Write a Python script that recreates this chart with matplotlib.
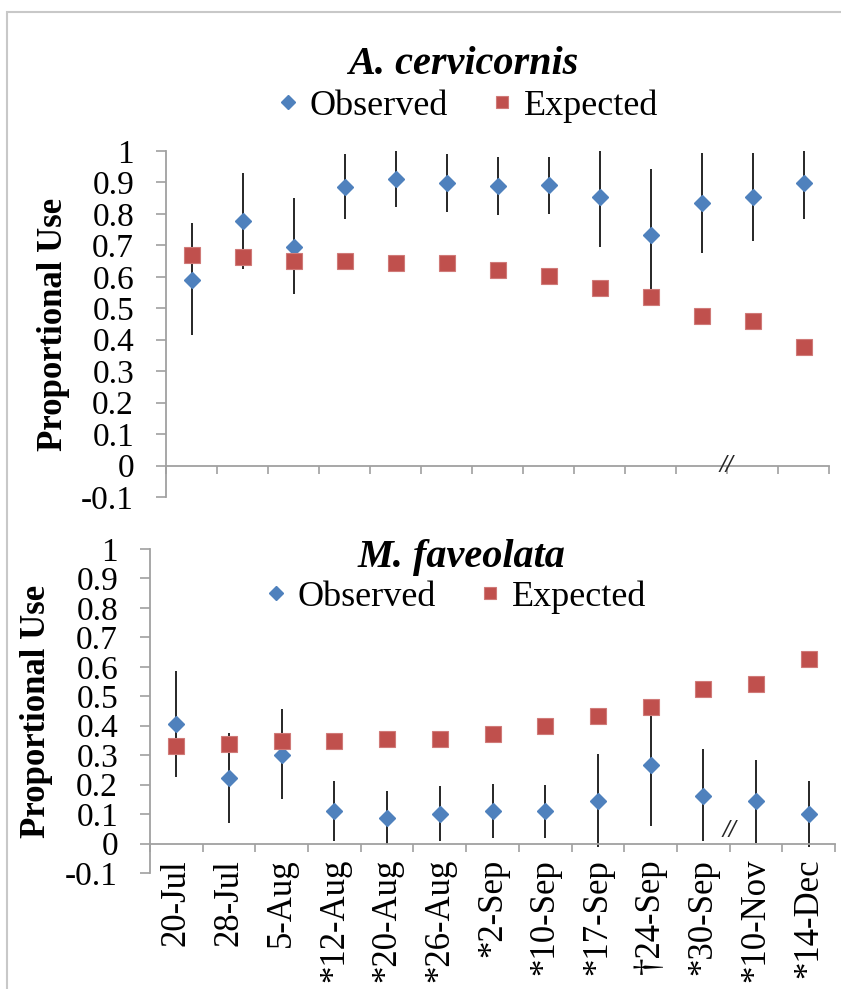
import numpy as np
import matplotlib
matplotlib.use("Agg")
import matplotlib.pyplot as plt
from matplotlib.patches import Rectangle

plt.rcParams['font.family'] = ['Liberation Serif', 'DejaVu Serif']

dates = ['20-Jul', '28-Jul', '5-Aug', '*12-Aug', '*20-Aug', '*26-Aug', '*2-Sep',
         '*10-Sep', '*17-Sep', '\u202024-Sep', '*30-Sep', '*10-Nov', '*14-Dec']

# A. cervicornis
acer_obs = [0.591, 0.777, 0.695, 0.886, 0.911, 0.899, 0.888, 0.892, 0.855, 0.732, 0.835, 0.855, 0.899]
acer_lo = [0.414, 0.624, 0.544, 0.783, 0.823, 0.807, 0.796, 0.799, 0.695, 0.530, 0.677, 0.714, 0.784]
acer_hi = [0.772, 0.929, 0.849, 0.989, 1.000, 0.990, 0.982, 0.982, 1.000, 0.942, 0.993, 0.995, 1.000]
acer_exp = [0.669, 0.663, 0.651, 0.651, 0.644, 0.644, 0.623, 0.602, 0.566, 0.536, 0.475, 0.461, 0.377]

# M. faveolata
mfav_obs = [0.407, 0.222, 0.302, 0.112, 0.087, 0.101, 0.110, 0.109, 0.144, 0.268, 0.163, 0.144, 0.101]
mfav_lo = [0.226, 0.069, 0.152, 0.010, 0.000, 0.008, 0.018, 0.018, -0.012, 0.058, 0.008, 0.003, -0.013]
mfav_hi = [0.586, 0.377, 0.456, 0.214, 0.177, 0.194, 0.203, 0.200, 0.305, 0.435, 0.322, 0.285, 0.214]
mfav_exp = [0.330, 0.337, 0.348, 0.348, 0.354, 0.354, 0.373, 0.398, 0.432, 0.464, 0.524, 0.540, 0.625]

yticks = [-0.1, 0, 0.1, 0.2, 0.3, 0.4, 0.5, 0.6, 0.7, 0.8, 0.9, 1]

BLUE = '#4F81BD'
RED = '#C0504D'
AXC = '#a0a0a0'
W, H = 841, 989

fig = plt.figure(figsize=(W / 100, H / 100), dpi=100)
fig.patches.append(Rectangle((7 / W, -0.1), 1.2, 1.1 - 12 / H, transform=fig.transFigure,
                             fill=False, edgecolor='#c8c8c8', lw=1.5))


def panel(rect, obs, lo, hi, exp, title, title_xy, leg_xy, show_labels, brk_y):
    ax = fig.add_axes(rect)
    x = np.arange(1, len(dates) + 1)
    obs = np.asarray(obs); lo = np.asarray(lo); hi = np.asarray(hi)
    ax.errorbar(x, obs, yerr=[obs - lo, hi - obs], fmt='none', ecolor='#262626',
                elinewidth=1.4, capsize=0, zorder=2)
    ax.plot(x, obs, 'D', color=BLUE, ms=8.5, mec=BLUE, ls='none', zorder=3, label='Observed')
    ax.plot(x, exp, 's', color=RED, ms=11.5, mec='#d07a78', mew=0.8, ls='none', zorder=4,
            label='Expected')
    ax.set_xlim(0.5, len(dates) + 0.5)
    ax.set_ylim(-0.1, 1.0)
    for s in ('top', 'right'):
        ax.spines[s].set_visible(False)
    ax.spines['left'].set_color(AXC)
    ax.spines['left'].set_linewidth(1.3)
    ax.spines['bottom'].set_position(('data', 0))
    ax.spines['bottom'].set_color(AXC)
    ax.spines['bottom'].set_linewidth(1.3)
    ax.set_yticks(yticks)
    ax.set_yticklabels(['%g' % v for v in yticks])
    ax.tick_params(axis='y', direction='out', length=7, width=1.2, color=AXC,
                   labelsize=24, pad=16)
    ax.set_xticks(np.arange(0.5, len(dates) + 1, 1.0))
    ax.set_xticklabels([])
    ax.tick_params(axis='x', which='major', direction='out', length=6, width=1.2, color=AXC)
    ax.set_xticks(x, minor=True)
    if show_labels:
        ax.set_xticklabels(dates, minor=True, rotation=90, fontsize=25, va='top')
        ax.tick_params(axis='x', which='minor', length=0, pad=11)
    else:
        ax.tick_params(axis='x', which='minor', length=0, labelbottom=False)
    ax.set_ylabel('Proportional Use', fontsize=25, fontweight='bold')
    fig.text(title_xy[0] / W, 1 - title_xy[1] / H, title, ha='center', va='center',
             fontsize=29, fontweight='bold', fontstyle='italic')
    ax.legend(loc='center', bbox_to_anchor=(leg_xy[0] / W, 1 - leg_xy[1] / H),
              bbox_transform=fig.transFigure, ncol=2, frameon=False, fontsize=26,
              handletextpad=0.2, columnspacing=1.1, handlelength=0.8, markerscale=0.8,
              borderpad=0, borderaxespad=0)
    ax.text(11.5, brk_y, '//', ha='center', va='center', fontsize=18, fontweight='bold',
            fontstyle='italic', color='#262626', zorder=5)
    return ax


ax1 = panel([166 / W, 1 - 497 / H, 663 / W, 346 / H], acer_obs, acer_lo, acer_hi, acer_exp,
            'A. cervicornis', (463, 64), (466, 106), False, 0.0)
ax1.yaxis.set_label_coords(-0.145, 0.5)
ax2 = panel([150 / W, 1 - 873 / H, 685 / W, 324 / H], mfav_obs, mfav_lo, mfav_hi, mfav_exp,
            'M. faveolata', (461, 557), (454, 597), True, 0.045)
ax2.yaxis.set_label_coords(-0.141, 0.5)

fig.savefig('out.png', dpi=100)
